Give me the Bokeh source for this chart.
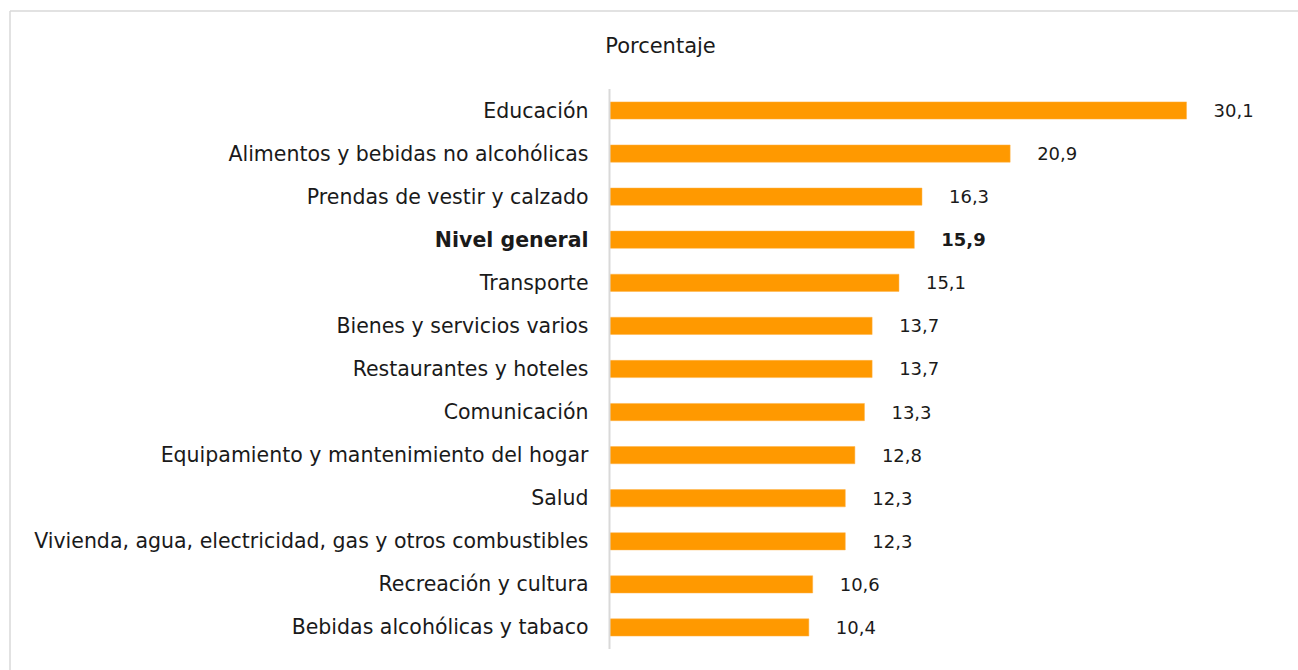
from bokeh.plotting import figure
from bokeh.models import ColumnDataSource, Range1d, Label
from bokeh.core.properties import value
from bokeh.embed import file_html
from bokeh.resources import INLINE

categories = [
    "Educación",
    "Alimentos y bebidas no alcohólicas",
    "Prendas de vestir y calzado",
    "Nivel general",
    "Transporte",
    "Bienes y servicios varios",
    "Restaurantes y hoteles",
    "Comunicación",
    "Equipamiento y mantenimiento del hogar",
    "Salud",
    "Vivienda, agua, electricidad, gas y otros combustibles",
    "Recreación y cultura",
    "Bebidas alcohólicas y tabaco",
]
values = [30.1, 20.9, 16.3, 15.9, 15.1, 13.7, 13.7, 13.3, 12.8, 12.3, 12.3, 10.6, 10.4]
value_labels = [f"{v:.1f}".replace(".", ",") for v in values]
bold_flags = [c == "Nivel general" for c in categories]
title_text = "Porcentaje"

FONT = "DejaVu Sans"
W, H = 1298, 670
px_per_unit = 19.17
px_per_band = 43.08
x0_px = 609   # canvas position of value 0
y0_px = 110   # canvas position of first band

n = len(categories)
ys = list(range(n))
styles = ["bold" if b else "normal" for b in bold_flags]
src = ColumnDataSource(dict(y=ys, v=values, cat=categories, lab=value_labels, st=styles))

def xd(px):
    return (px - x0_px) / px_per_unit

def yd(px):
    return (px - y0_px) / px_per_band

p = figure(width=W, height=H, output_backend="svg", toolbar_location=None,
           x_range=Range1d(xd(0), xd(W)),
           y_range=Range1d(yd(H), yd(0)),
           min_border=0)
p.xaxis.visible = False
p.yaxis.visible = False
p.grid.visible = False
p.outline_line_color = None
p.background_fill_color = "white"
p.border_fill_color = "white"

# chart-area border (top and left edges visible in the window)
p.segment(x0=[xd(9.5), xd(9.5)], y0=[yd(10.5), yd(10.5)],
          x1=[xd(W + 5), xd(9.5)], y1=[yd(10.5), yd(H + 5)],
          line_color="#d9d9d9", line_width=1.5)

p.hbar(y="y", left=0, right="v", height=0.4, source=src,
       fill_color="#FF9900", line_color="#FFB347", line_width=0.5)

p.segment(x0=0, y0=-0.5, x1=0, y1=n - 0.5, line_color="#d9d9d9", line_width=2)

p.text(x=0, y="y", text="cat", source=src, x_offset=-21, text_align="right",
       text_baseline="middle", text_font=value(FONT), text_font_size="20.5px",
       text_font_style="st", text_color="#1a1a1a")
p.text(x="v", y="y", text="lab", source=src, x_offset=27, text_align="left",
       text_baseline="middle", text_font=value(FONT), text_font_size="18px",
       text_font_style="st", text_color="#1a1a1a")

p.add_layout(Label(x=xd(660), y=yd(45), text=title_text, text_align="center",
                   text_baseline="middle", text_font=FONT, text_font_size="21px",
                   text_color="#1a1a1a"))

open("out.html", "w").write(file_html(p, INLINE))
